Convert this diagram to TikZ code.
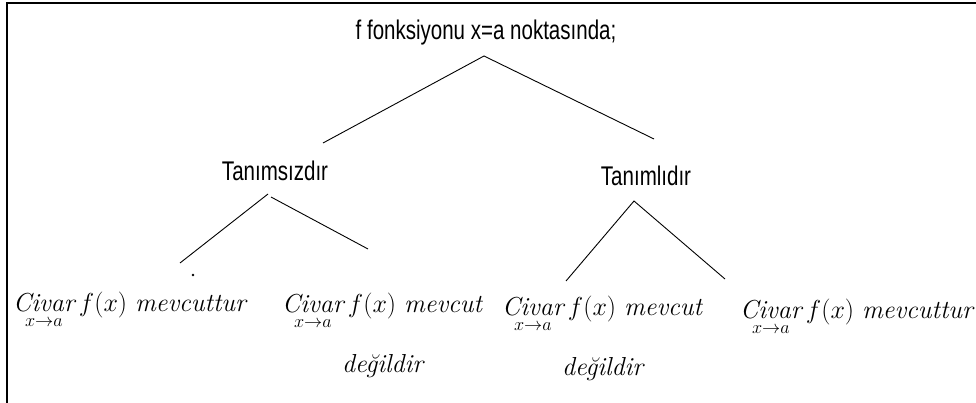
\RequirePackage{fix-cm}
\documentclass[tikz,border=0pt]{standalone}
\usepackage{amsmath}
\usepackage{fontspec}
\newfontfamily\narrowsans[FakeStretch=0.76]{Liberation Sans}

\tikzset{
  hdr/.style={font=\narrowsans\fontsize{27}{30}\selectfont, inner sep=0pt, anchor=base},
  leaf/.style={font=\fontsize{26}{30}\selectfont, inner sep=0pt, anchor=base west},
  branch/.style={line width=0.9pt},
}
\newcommand{\civar}[1]{$\mathop{\mathit{Civar}}\limits_{x\to a} f(x)\ \mathit{#1}$}

\begin{document}
\begin{tikzpicture}[x=1pt,y=-1pt]
  \useasboundingbox (0,0) rectangle (976,403);
  % frame (left and top only)
  \draw[line width=1.6pt] (7,403) -- (7,3) -- (976,3);

  % headings
  \node[hdr] (title) at (486,40) {f fonksiyonu x=a noktasında;};
  \node[hdr] (undef) at (275,181) {Tanımsızdır};
  \node[hdr] (def) at (646,186) {Tanımlıdır};

  % leaves
  \node[leaf] (l1) at (13,311) {\civar{mevcuttur}};
  \node[leaf] (l2) at (282,312) {\civar{mevcut}};
  \node[leaf] (l2b) at (342,372) {\textit{değildir}};
  \node[leaf] (r1) at (502,315) {\civar{mevcut}};
  \node[leaf] (r1b) at (562,375) {\textit{değildir}};
  \node[leaf] (r2) at (740,318) {\civar{mevcuttur}};

  % branch ends
  \coordinate (top) at (484,56);
  \coordinate (topl) at (323,143);
  \coordinate (topr) at (654,139);
  \coordinate (undefl) at (268,194);
  \coordinate (undefr) at (271,197);
  \coordinate (undefll) at (180,263);
  \coordinate (undefrr) at (368,249);
  \coordinate (defm) at (634,201);
  \coordinate (defl) at (566,281);
  \coordinate (defr) at (725,279);

  \draw[branch] (topl) -- (top) -- (topr);
  \draw[branch] (undefll) -- (undefl);
  \draw[branch] (undefr) -- (undefrr);
  \draw[branch] (defl) -- (defm) -- (defr);
  \fill (193,275) circle (1.3pt);
\end{tikzpicture}
\end{document}
